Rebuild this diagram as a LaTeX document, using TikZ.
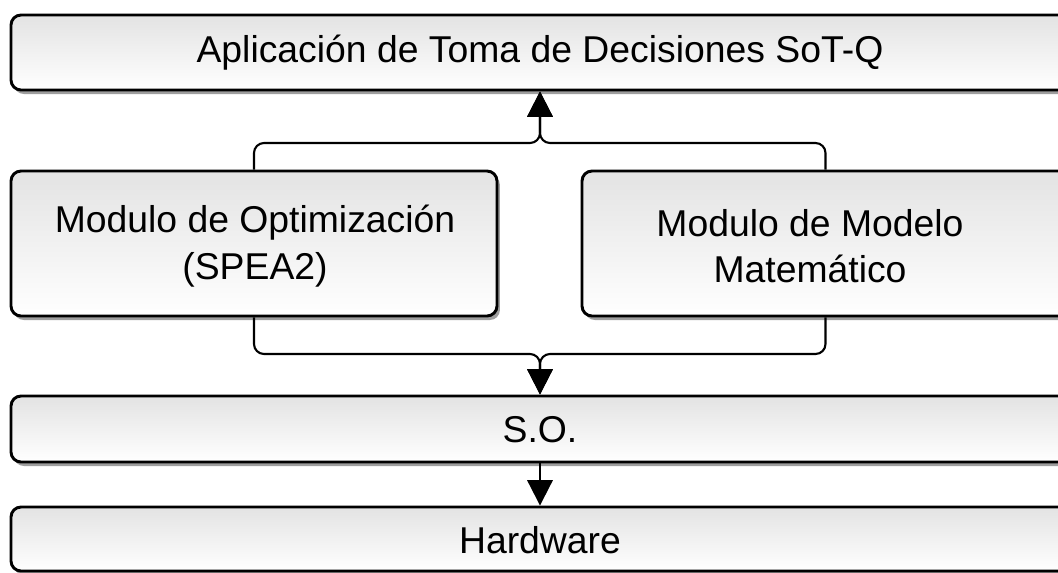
\documentclass[tikz,border=0pt]{standalone}
\usepackage{fontspec}
\setmainfont{Liberation Sans}
\usetikzlibrary{shadows,arrows.meta,calc}
\begin{document}
\begin{tikzpicture}[x=0.75pt,y=-0.75pt,
  layerbox/.style={draw=black, line width=2.2pt, rounded corners=7.5pt,
    top color=black!11, bottom color=white, inner sep=0pt,
    drop shadow={shadow xshift=2.2pt, shadow yshift=-3pt, fill=black!42, opacity=0.9}},
  labeltext/.style={font=\fontsize{28}{35}\selectfont, align=center, text=black},
  conn/.style={draw=black, line width=1.6pt, rounded corners=7.5pt,
    -{Triangle[length=19pt,width=19pt]}}]
\useasboundingbox (0,0) rectangle (1058,572);

% layers of the architecture
\node[layerbox, minimum width=793.5pt, minimum height=56.25pt] (app) at (540,52.5) {};
\node[labeltext] (apptext) at (540,52.5) {Aplicación de Toma de Decisiones SoT-Q};

\node[layerbox, minimum width=364.5pt, minimum height=108.75pt] (opt) at (254,243.5) {};
\node[labeltext] (opttext) at (255,246) {Modulo de Optimización\\(SPEA2)};

\node[layerbox, minimum width=365.25pt, minimum height=108.75pt] (mat) at (825.5,243.5) {};
\node[labeltext] (mattext) at (810,246) {Modulo de Modelo\\Matemático};

\node[layerbox, minimum width=793.5pt, minimum height=49.5pt] (so) at (540,429) {};
\node[labeltext] (sotext) at (540,430) {S.O.};

\node[layerbox, minimum width=793.5pt, minimum height=48pt] (hw) at (540,539) {};
\node[labeltext] (hwtext) at (540,540) {Hardware};

% junction points of the connectors
\coordinate (jtop) at (540,143);
\coordinate (jbot) at (540,354);

\draw[conn] (opt.north) -- (opt.north |- jtop) -- (jtop) -- (app.south -| jtop);
\draw[conn] (mat.north) -- (mat.north |- jtop) -- (jtop) -- (app.south -| jtop);
\draw[conn] (opt.south) -- (opt.south |- jbot) -- (jbot) -- (so.north -| jbot);
\draw[conn] (mat.south) -- (mat.south |- jbot) -- (jbot) -- (so.north -| jbot);
\draw[conn] (so.south) -- (hw.north);
\end{tikzpicture}
\end{document}
